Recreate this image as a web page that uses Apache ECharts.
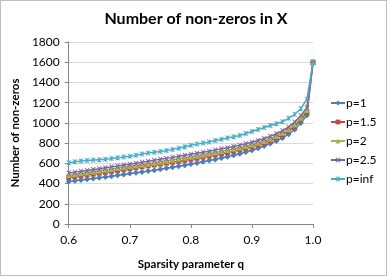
<!DOCTYPE html>
<html><head><meta charset="utf-8">
<script src="https://cdn.jsdelivr.net/npm/echarts@6/dist/echarts.min.js"></script>
<style>html,body{margin:0;padding:0;background:#fff}#c{width:387px;height:276px;box-sizing:border-box;border:1px solid #bfbfbf}</style>
</head><body><div id="c"></div>
<script>
const qValues = [0.60,0.61,0.62,0.63,0.64,0.65,0.66,0.67,0.68,0.69,0.70,0.71,0.72,0.73,0.74,0.75,0.76,0.77,0.78,0.79,0.80,0.81,0.82,0.83,0.84,0.85,0.86,0.87,0.88,0.89,0.90,0.91,0.92,0.93,0.94,0.95,0.96,0.97,0.98,0.99,1.00];
const p1 = [420,428,436,443,451,458,466,473,481,490,499,507,515,523,532,541,551,561,571,582,593,604,615,627,639,652,665,680,695,712,730,750,772,796,822,851,888,935,998,1075,1600];
const p15 = [460,469,477,486,494,503,511,520,529,538,548,557,566,575,584,593,602,611,620,630,640,650,661,672,683,695,707,720,734,749,765,783,803,825,852,882,918,965,1030,1105,1600];
const p2 = [485,493,502,510,519,527,536,544,553,561,570,579,588,597,607,616,626,635,645,655,665,675,686,697,708,719,731,744,757,771,786,803,822,843,870,902,938,985,1050,1128,1600];
const p25 = [505,513,522,530,539,547,556,565,574,583,592,601,611,620,630,640,649,659,669,679,689,699,710,720,731,743,755,767,780,794,809,826,845,867,892,922,960,1008,1072,1150,1600];
const pinf = [605,615,622,628,632,636,640,648,655,662,670,680,692,702,710,718,728,738,750,765,778,790,800,812,825,838,850,862,876,895,915,935,955,975,992,1012,1045,1085,1140,1235,1600];
const seriesNames = ['p=1','p=1.5','p=2','p=2.5','p=inf'];
const seriesData = [p1,p15,p2,p25,pinf];
const colors = ['#4A7EBB','#BE4B48','#98B954','#7D60A0','#4BACC6'];
const xSym = 'path://M0,0L2,0L5,3L8,0L10,0L6,5L10,10L8,10L5,7L2,10L0,10L4,5Z';
const starSym = 'path://M0,0L2,0L5,3L8,0L10,0L6,5L10,10L8,10L5,7L2,10L0,10L4,5ZM4.3,0L5.7,0L5.7,10L4.3,10Z';
const symbols = ['diamond','rect','triangle',xSym,starSym];
const sizes = [6,5,6,5,5];
const font = 'Lato, "Open Sans", sans-serif';
const chart = echarts.init(document.getElementById('c'));
chart.setOption({
  animation:false,
  color:colors,
  textStyle:{fontFamily:font},
  title:{text:'Number of non-zeros in X',left:190,textAlign:'center',top:5,
    textStyle:{fontSize:16,fontWeight:'bold',color:'#000',fontFamily:font}},
  grid:{left:63,right:73,top:41,bottom:50},
  legend:{orient:'vertical',left:324,top:91,itemGap:7,itemWidth:14,itemHeight:6,
    data:seriesNames,textStyle:{fontSize:12,color:'#000',fontFamily:font,padding:[0,0,0,-4]}},
  xAxis:{type:'value',min:0.6,max:1.0,interval:0.1,
    name:'Sparsity parameter q',nameLocation:'middle',nameGap:34,
    nameTextStyle:{fontSize:11.5,fontWeight:'bold',color:'#000'},
    axisLine:{lineStyle:{color:'#868686'}},axisTick:{show:true,length:4,lineStyle:{color:'#868686'}},
    splitLine:{show:false},
    axisLabel:{fontSize:12,color:'#000',margin:10,formatter:v=>v.toFixed(1)}},
  yAxis:{type:'value',min:0,max:1800,interval:200,
    name:'Number of non-zeros',nameLocation:'middle',nameGap:42,
    nameTextStyle:{fontSize:11.5,fontWeight:'bold',color:'#000'},
    axisLine:{show:true,lineStyle:{color:'#868686'}},axisTick:{show:true,length:4,lineStyle:{color:'#868686'}},
    splitLine:{lineStyle:{color:'#d9d9d9'}},
    axisLabel:{fontSize:12,color:'#000',margin:9,formatter:v=>String(v)}},
  series:seriesNames.map((n,i)=>({
    name:n,type:'line',
    data:qValues.map((q,j)=>[q,seriesData[i][j]]),
    symbol:symbols[i],symbolSize:sizes[i],showSymbol:true,
    lineStyle:{width:1.5,color:colors[i]},
    itemStyle:{color:colors[i]}
  }))
});
</script></body></html>
